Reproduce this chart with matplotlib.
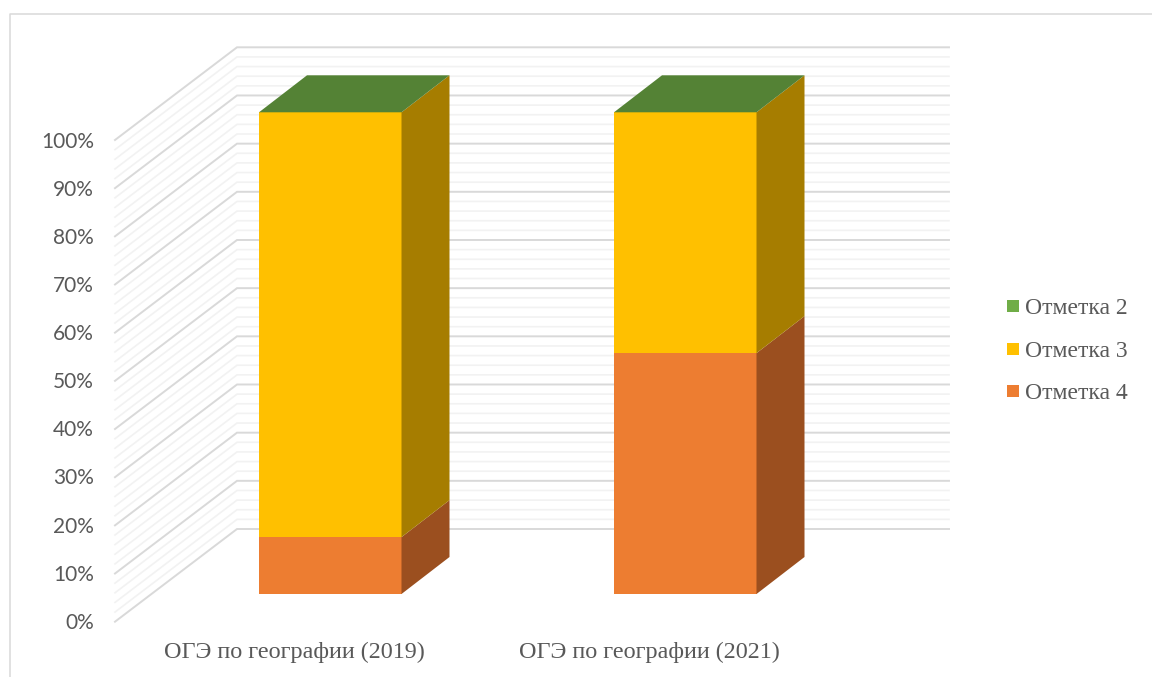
import matplotlib
matplotlib.use("Agg")
import matplotlib.pyplot as plt
from matplotlib.patches import Polygon, Rectangle

categories = ["ОГЭ по географии (2019)", "ОГЭ по географии (2021)"]
grade_4 = [11.8, 50.0]
grade_3 = [88.2, 50.0]
grade_2 = [0.0, 0.0]
tick_values = list(range(0, 101, 10))
minor_values = list(range(0, 101, 2))

# layout in image pixels
W, H = 1152, 677
FRONT_X, BACK_X, RIGHT_X = 115, 237, 949
FRONT_Y0, BACK_Y0 = 621.7, 529
PX_PER_PCT = 4.817
BAR_Y0 = 594
BAR_LEFT = [259, 614]
BAR_W = 142.5
DEPTH_X, DEPTH_Y = 48, 37
LABEL_SHIFT = 36  # category labels sit left of the bar fronts

GREY = "#595959"
SERIES = [
    ("Отметка 4", grade_4, "#ED7D31", "#9B4F1F"),
    ("Отметка 3", grade_3, "#FFC000", "#A67D00"),
    ("Отметка 2", grade_2, "#70AD47", "#548235"),
]
TOP_COLOR = "#548235"

fig = plt.figure(figsize=(W / 100, H / 100), dpi=100)
ax = fig.add_axes([0, 0, 1, 1])
ax.set_xlim(0, W)
ax.set_ylim(H, 0)
ax.axis("off")

# outer chart frame
ax.plot([9.5, 9.5, W], [H, 13.5, 13.5], color="#D9D9D9", lw=1.1, zorder=1)

# grid on side wall and back wall
for v in minor_values:
    major = v % 10 == 0
    ax.plot([FRONT_X, BACK_X, RIGHT_X],
            [FRONT_Y0 - v * PX_PER_PCT, BACK_Y0 - v * PX_PER_PCT, BACK_Y0 - v * PX_PER_PCT],
            color="#D9D9D9" if major else "#F2F2F2", lw=1.4 if major else 1.2,
            zorder=3 if major else 2, solid_joinstyle="miter")

for v in tick_values:
    ax.text(94, FRONT_Y0 + 1 - v * (PX_PER_PCT - 0.01), f"{v}%", ha="right", va="center",
            fontsize=15, color=GREY, family="Lato")

# stacked 3D bars
for i, left in enumerate(BAR_LEFT):
    right = left + BAR_W
    base = 0.0
    for name, values, front, side in SERIES:
        y_low = BAR_Y0 - base * PX_PER_PCT
        y_high = BAR_Y0 - (base + values[i]) * PX_PER_PCT
        if values[i] > 0:
            ax.add_patch(Rectangle((left, y_high), BAR_W, y_low - y_high,
                                   facecolor=front, edgecolor="none", zorder=5))
            ax.add_patch(Polygon([(right, y_low), (right + DEPTH_X, y_low - DEPTH_Y),
                                  (right + DEPTH_X, y_high - DEPTH_Y), (right, y_high)],
                                 facecolor=side, edgecolor="none", zorder=5))
        base += values[i]
    # top face takes the colour of the last (zero height) series
    y_top = BAR_Y0 - base * PX_PER_PCT
    ax.add_patch(Polygon([(left, y_top), (right, y_top),
                          (right + DEPTH_X, y_top - DEPTH_Y), (left + DEPTH_X, y_top - DEPTH_Y)],
                         facecolor=TOP_COLOR, edgecolor="none", zorder=6))
    ax.text(left + BAR_W / 2 - LABEL_SHIFT, 652, categories[i], ha="center", va="center",
            fontsize=17.4, color=GREY, family="Liberation Serif")

# legend
for (name, _, front, _), y in zip(SERIES, [391, 349, 306]):
    ax.add_patch(Rectangle((1007, y - 6), 12, 12, facecolor=front, edgecolor="none"))
    ax.text(1025, y + 2.5, name, ha="left", va="center", fontsize=17, color=GREY,
            family="Liberation Serif")

fig.savefig("out.png", dpi=100, facecolor="white")
